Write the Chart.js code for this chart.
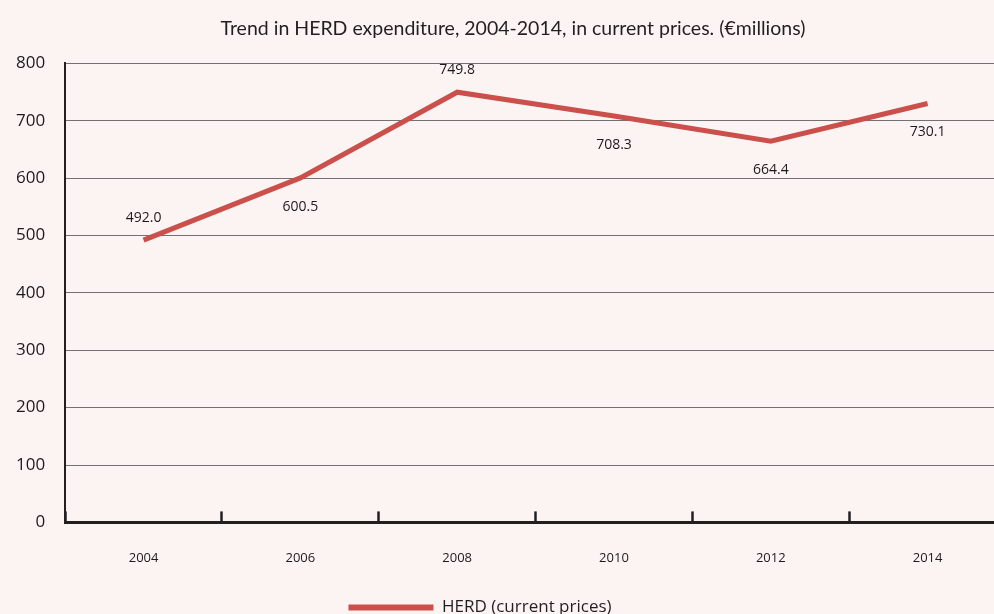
<!DOCTYPE html>
<html>
<head>
<meta charset="utf-8">
<script src="https://cdn.jsdelivr.net/npm/chart.js@4"></script>
<style>
  html, body { margin: 0; padding: 0; background: #fcf4f2; overflow: hidden; }
  #wrap { width: 1026px; height: 614px; }
</style>
</head>
<body>
<div id="wrap"><canvas id="myChart"></canvas></div>
<script>
const years = ['2004', '2006', '2008', '2010', '2012', '2014'];
const herd = [492.0, 600.5, 749.8, 708.3, 664.4, 730.1];
const labelAbove = [true, false, true, false, false, false];

const red = '#cb4f4b';

const valueLabels = {
  id: 'valueLabels',
  afterDatasetsDraw(chart) {
    const meta = chart.getDatasetMeta(0);
    const c = chart.ctx;
    c.save();
    c.font = '14px "Open Sans"';
    c.fillStyle = '#1d1a1b';
    c.textAlign = 'center';
    c.textBaseline = 'middle';
    meta.data.forEach((pt, i) => {
      const dy = labelAbove[i] ? -22 : 29;
      c.fillText(herd[i].toFixed(1), pt.x, pt.y + dy);
    });
    c.restore();
  }
};

// title and legend are not centred on the canvas in the original
const nudgeBoxes = {
  id: 'nudgeBoxes',
  afterLayout(chart) {
    chart.legend.left -= 46;
    chart.legend.top += 12;
    chart.legend.bottom += 12;
    chart.titleBlock.left += 10;
    chart.titleBlock.right += 10;
  }
};

const ctx = document.getElementById('myChart');

chart = new Chart(ctx, {
  type: 'line',
  data: {
    labels: years,
    datasets: [{
      label: 'HERD (current prices)',
      data: herd,
      borderColor: red,
      backgroundColor: red,
      borderWidth: 5,
      pointRadius: 0,
      tension: 0
    }]
  },
  options: {
    responsive: true,
    maintainAspectRatio: false,
    animation: false,
    layout: { padding: { left: 0, right: 20, top: 0, bottom: 0 } },
    scales: {
      x: {
        offset: true,
        grid: {
          offset: true,
          drawOnChartArea: false,
          drawTicks: true,
          tickLength: -11,
          tickColor: '#231f20',
          tickWidth: 2.5
        },
        border: { color: '#231f20', width: 3 },
        ticks: {
          color: '#1d1a1b',
          font: { family: 'Open Sans', size: 13 },
          padding: 39
        },
        afterFit(scale) { scale.height -= 18; }
      },
      y: {
        min: 0,
        max: 800,
        grid: { color: '#747172', lineWidth: 1, drawTicks: false },
        border: { color: '#231f20', width: 2 },
        ticks: {
          stepSize: 100,
          color: '#1d1a1b',
          font: { family: 'Open Sans', size: 17 },
          padding: 20
        },
        afterFit(scale) { scale.width -= 4; }
      }
    },
    plugins: {
      title: {
        display: true,
        text: 'Trend in HERD expenditure, 2004-2014, in current prices. (€millions)',
        color: '#231f20',
        font: { family: 'Lato', size: 19.5, weight: 'normal' },
        padding: { top: 17, bottom: 23 }
      },
      legend: {
        position: 'bottom',
        labels: {
          color: '#231f20',
          font: { family: 'Open Sans', size: 17 },
          boxWidth: 85,
          boxHeight: 6,
          padding: 0,
          generateLabels: (ch) => Chart.defaults.plugins.legend.labels.generateLabels(ch)
            .map(l => ({ ...l, lineWidth: 0 }))
        }
      },
      tooltip: { enabled: false }
    }
  },
  plugins: [valueLabels, nudgeBoxes]
});
</script>
</body>
</html>
